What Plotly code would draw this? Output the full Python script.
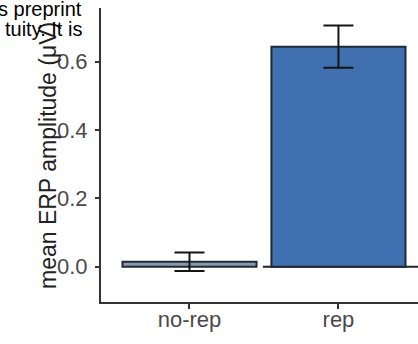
import plotly.graph_objects as go

# condition means and their error bar half-widths (µV)
conditions = ["no-rep", "rep"]
mean_amp = [0.015, 0.644]
err_amp = [0.027, 0.062]
bar_fill = ["#8c99a8", "#4170b0"]

y_ticks = [0.0, 0.2, 0.4, 0.6]
y_tick_text = ["0.0", "0.2", "0.4", "0.6"]

W, H = 418, 344
ml, mr, mt, mb = 101, 0, 8, 42
pw = W - ml - mr
ph = H - mt - mb

FONT = "Liberation Sans, Arial, sans-serif"

fig = go.Figure()
fig.add_trace(go.Bar(
    x=conditions,
    y=mean_amp,
    width=0.9,
    marker=dict(color=bar_fill, line=dict(color="#1e2a38", width=2)),
    error_y=dict(type="data", array=err_amp, visible=True,
                 color="#151515", thickness=2, width=15),
    showlegend=False,
))

# reference line at zero to the right of the first bar
fig.add_shape(type="line", xref="x", yref="y",
              x0=0.493, x1=1.534, y0=0, y1=0,
              line=dict(color="#222222", width=2), layer="below")

tick_font = dict(family=FONT, size=22, color="#4a4a4a")

fig.update_xaxes(
    range=[-0.594, 1.534],
    showline=True, linecolor="#333333", linewidth=2,
    ticks="outside", ticklen=5, tickwidth=1.5, tickcolor="#333333",
    ticklabelstandoff=-8,
    tickfont=tick_font, showgrid=False, zeroline=False,
)
fig.update_yaxes(
    range=[-0.103, 0.757],
    tickvals=y_ticks, ticktext=y_tick_text,
    showline=True, linecolor="#333333", linewidth=2,
    ticks="outside", ticklen=4, tickwidth=1.5, tickcolor="#333333",
    ticklabelstandoff=3,
    tickfont=tick_font, showgrid=False, zeroline=False,
)

# y-axis title
fig.add_annotation(text="mean ERP amplitude (μV)", xref="paper", yref="paper",
                   x=(48 - ml) / pw, y=(H - mb - 156) / ph, textangle=-90,
                   xanchor="center", yanchor="middle", showarrow=False,
                   font=dict(family=FONT, size=23, color="#222222"))

# fragment of the overlaid notice text
note_font = dict(family=FONT, size=20, color="#000000")
for txt, cy in [("s preprint", 9), ("tuity. It is", 29)]:
    fig.add_annotation(text=txt, xref="paper", yref="paper",
                       x=(84 - ml) / pw, y=(H - mb - cy) / ph,
                       xanchor="right", yanchor="middle", showarrow=False,
                       font=note_font)

fig.update_layout(
    width=W, height=H,
    margin=dict(l=ml, r=mr, t=mt, b=mb, pad=0),
    plot_bgcolor="white", paper_bgcolor="white",
    bargap=0.1,
)

fig.write_html("out.html")
